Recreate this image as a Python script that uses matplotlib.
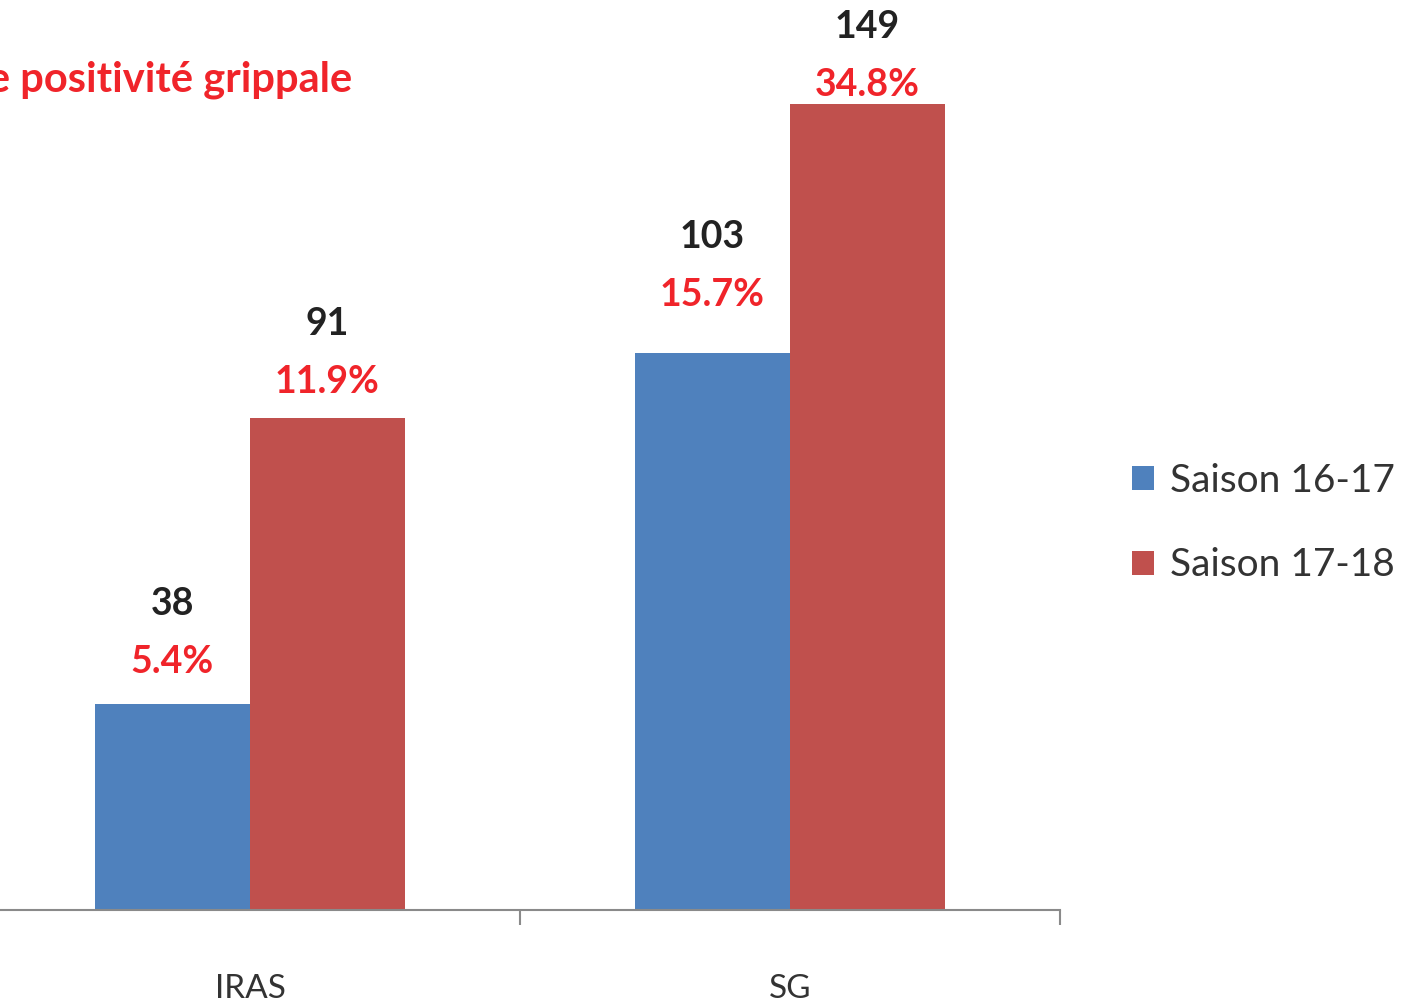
import matplotlib
matplotlib.use("Agg")
import matplotlib.pyplot as plt
import numpy as np
from matplotlib.patches import Patch

categories = ["IRAS", "SG"]
seasons = ["Saison 16-17", "Saison 17-18"]
counts_1617 = [38, 103]
counts_1718 = [91, 149]
pct_1617 = ["5.4%", "15.7%"]
pct_1718 = ["11.9%", "34.8%"]
title = "Taux de positivité grippale"

# label placement (pixels above bar top), per series
pct_offsets = [[45, 61], [39, 22]]
count_gap = 58

colors = ["#4F81BD", "#C0504D"]
pct_color = "#F0242A"
font = ["Lato", "DejaVu Sans"]

W, H = 1409, 1005
fig = plt.figure(figsize=(W / 100, H / 100), dpi=100)
ax_left, ax_right = -20, 1060
base_y = 910
ax = fig.add_axes([ax_left / W, (H - base_y) / H, (ax_right - ax_left) / W, base_y / H])
ax.set_xlim(-0.5, 1.5)
ax.set_ylim(0, 168.2)

x = np.arange(len(categories))
bw = 0.287
series = [(counts_1617, pct_1617), (counts_1718, pct_1718)]
for i, (cnts, pcts) in enumerate(series):
    xs = x + (i - 0.5) * bw
    ax.bar(xs, cnts, width=bw, color=colors[i], edgecolor="none")
    for j, (xi, c, p) in enumerate(zip(xs, cnts, pcts)):
        off = pct_offsets[i][j]
        ax.annotate(p, (xi, c), xytext=(0, off), textcoords="offset pixels",
                    ha="center", va="center_baseline", fontsize=27, fontweight="bold",
                    color=pct_color, family=font)
        ax.annotate(str(c), (xi, c), xytext=(0, off + count_gap), textcoords="offset pixels",
                    ha="center", va="center_baseline", fontsize=27, fontweight="bold",
                    color="#222222", family=font)

for s in ["top", "right", "left"]:
    ax.spines[s].set_visible(False)
ax.spines["bottom"].set_color("#8a8a8a")
ax.spines["bottom"].set_linewidth(1.5)
ax.set_yticks([])
ax.set_xticks(x)
ax.set_xticklabels(categories, fontsize=24, family=font, color="#333333")
ax.tick_params(axis="x", which="major", length=0, pad=46)
ax.set_xticks([-0.5, 0.5, 1.5], minor=True)
ax.tick_params(axis="x", which="minor", length=11, width=1.5, color="#8a8a8a", direction="out")

fig.text(352 / W, 1 - 80 / H, title, ha="right", va="center", fontsize=30,
         fontweight="bold", color=pct_color, family=font)

handles = [Patch(facecolor=c, edgecolor="none") for c in colors]
leg = fig.legend(handles, seasons, loc="center left",
                 bbox_to_anchor=(1097 / W, 1 - 523 / H), frameon=False,
                 handlelength=0.57, handleheight=0.57, handletextpad=0.4,
                 labelspacing=1.25, prop={"family": font, "size": 28})
for t in leg.get_texts():
    t.set_color("#333333")

fig.savefig("out.png", dpi=100)
